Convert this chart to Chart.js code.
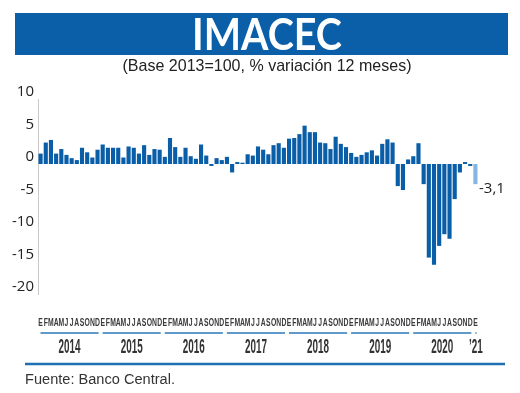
<!DOCTYPE html>
<html>
<head>
<meta charset="utf-8">
<script src="https://cdn.jsdelivr.net/npm/chart.js@4"></script>
<style>
  html, body { margin: 0; padding: 0; background: #fff; }
  #wrap { width: 520px; height: 393px; position: relative; }
</style>
</head>
<body>
<div id="wrap"><canvas id="c"></canvas></div>
<script>
// ---- data ----
const monthLetters = ['E','F','M','A','M','J','J','A','S','O','N','D'];
const yearLabels = ['2014','2015','2016','2017','2018','2019','2020','\u201921'];
const v2014 = [1.6, 3.3, 3.7, 1.6, 2.3, 1.4, 0.9, 0.6, 2.5, 1.8, 1.0, 2.2];
const v2015 = [3.0, 2.5, 2.5, 2.5, 1.0, 2.7, 2.5, 1.6, 2.9, 1.4, 2.3, 2.2];
const v2016 = [1.1, 4.0, 2.6, 1.1, 2.5, 1.2, 0.8, 3.0, 1.3, -0.3, 0.9, 0.6];
const v2017 = [1.1, -1.3, 0.3, 0.2, 1.5, 1.3, 2.7, 2.2, 1.5, 2.9, 3.2, 2.5];
const v2018 = [3.9, 4.0, 4.6, 5.9, 4.9, 4.9, 3.3, 3.2, 2.3, 4.2, 3.1, 2.6];
const v2019 = [1.7, 1.1, 1.4, 1.8, 2.1, 1.3, 3.1, 3.8, 3.3, -3.4, -4.0, 0.7];
const v2020 = [1.2, 3.2, -3.1, -14.4, -15.5, -12.6, -10.8, -11.5, -5.4, -1.3, 0.3, -0.3];
const v2021 = [-3.1];
const yTicks = [10, 5, 0, -5, -10, -15, -20];
const lastValueLabel = '-3,1';
const titleText = 'IMACEC';
const subtitleText = '(Base 2013=100, % variaci\u00f3n 12 meses)';
const sourceText = 'Fuente: Banco Central.';

const yearValues = [v2014, v2015, v2016, v2017, v2018, v2019, v2020, v2021];
const categories = [];
const values = [];
const yearOfIndex = [];
yearValues.forEach((arr, yi) => {
  arr.forEach((v, mi) => {
    categories.push(monthLetters[mi]);
    values.push(v);
    yearOfIndex.push(yi);
  });
});

const DARK = '#0a5ea8';
const LIGHT = '#86b5df';
const colors = values.map((v, i) => i === values.length - 1 ? LIGHT : DARK);

function fitText(ctx, text, x, y, font, sx, align, baseline) {
  ctx.save();
  ctx.font = font;
  ctx.textAlign = align || 'center';
  ctx.textBaseline = baseline || 'alphabetic';
  ctx.translate(x, y);
  ctx.scale(sx, 1);
  ctx.fillText(text, 0, 0);
  ctx.restore();
}
function scaleFor(ctx, text, font, width) {
  ctx.save(); ctx.font = font;
  const w = ctx.measureText(text).width;
  ctx.restore();
  return width / w;
}

const deco = {
  id: 'deco',
  beforeDraw(chart) {
    const ctx = chart.ctx;
    ctx.save();
    ctx.fillStyle = '#fff';
    ctx.fillRect(0, 0, chart.width, chart.height);
    // banner
    ctx.fillStyle = '#0a5fa8';
    ctx.fillRect(15, 13, 493, 42);
    ctx.fillStyle = '#fff';
    const tf = 'bold 44px Lato, "Liberation Sans", sans-serif';
    fitText(ctx, titleText, 267, 50, tf, scaleFor(ctx, titleText, tf, 150), 'center');
    // subtitle
    ctx.fillStyle = '#222';
    const sf = '17px "Liberation Sans", Arial, sans-serif';
    fitText(ctx, subtitleText, 267, 66, sf, scaleFor(ctx, subtitleText, sf, 289), 'center', 'middle');
    ctx.restore();
  },
  afterDraw(chart) {
    const ctx = chart.ctx;
    const xs = chart.scales.x, ys = chart.scales.y;
    const slot = xs.getPixelForValue(1) - xs.getPixelForValue(0);
    ctx.save();
    // month letters
    ctx.fillStyle = '#3a3a3a';
    const mf = 'bold 11px "Liberation Sans", Arial, sans-serif';
    categories.forEach((c, i) => {
      fitText(ctx, c, xs.getPixelForValue(i), 323, mf, 0.62, 'center', 'middle');
    });
    // year underlines and labels
    const yf = 'bold 21px "Liberation Sans", Arial, sans-serif';
    const ysx = scaleFor(ctx, '2014', yf, 22);
    yearLabels.forEach((lab, yi) => {
      const first = yearOfIndex.indexOf(yi);
      const last = yearOfIndex.lastIndexOf(yi);
      const x0 = xs.getPixelForValue(first) - slot / 2 + 2.5;
      const x1 = xs.getPixelForValue(last) + slot / 2 - 1.5;
      ctx.strokeStyle = '#2a78b8';
      ctx.lineWidth = 1.6;
      ctx.beginPath(); ctx.moveTo(x0, 333); ctx.lineTo(x1, 333); ctx.stroke();
      ctx.fillStyle = '#333';
      fitText(ctx, lab, (x0 + x1) / 2, 353, yf, ysx, 'center');
    });
    // bottom rule
    ctx.strokeStyle = '#1f6fb2';
    ctx.lineWidth = 2.6;
    ctx.beginPath(); ctx.moveTo(25, 364); ctx.lineTo(505, 364); ctx.stroke();
    // source
    ctx.fillStyle = '#333';
    const ff = '14px "Liberation Sans", Arial, sans-serif';
    fitText(ctx, sourceText, 25, 384, ff, scaleFor(ctx, sourceText, ff, 150), 'left');
    // last value label
    const li = values.length - 1;
    ctx.fillStyle = '#222';
    ctx.font = '15px "Open Sans", "Liberation Sans", sans-serif';
    ctx.textAlign = 'left';
    ctx.textBaseline = 'middle';
    ctx.fillText(lastValueLabel, xs.getPixelForValue(li) + slot / 2 + 1, ys.getPixelForValue(values[li]) + 5);
    ctx.restore();
  }
};

new Chart(document.getElementById('c'), {
  type: 'bar',
  data: {
    labels: categories,
    datasets: [{
      data: values,
      backgroundColor: colors,
      borderWidth: 0,
      barPercentage: 0.8,
      categoryPercentage: 1.0
    }]
  },
  options: {
    responsive: true,
    maintainAspectRatio: false,
    devicePixelRatio: 1,
    animation: false,
    layout: { padding: { top: 99, bottom: 99, left: 0, right: 42 } },
    plugins: { legend: { display: false }, tooltip: { enabled: false }, title: { display: false } },
    scales: {
      x: { display: false },
      y: {
        min: -20, max: 10,
        afterFit(s) { s.width = 38; },
        afterBuildTicks(s) { s.ticks = yTicks.map(v => ({ value: v })); },
        grid: { display: false, drawTicks: false },
        border: { display: true, color: '#c8c8c8', width: 1 },
        ticks: {
          padding: 4,
          labelOffset: -7,
          color: '#222',
          font: { family: '"Open Sans", "Liberation Sans", sans-serif', size: 15 },
          callback: v => String(v)
        }
      }
    }
  },
  plugins: [deco]
});
</script>
</body>
</html>
